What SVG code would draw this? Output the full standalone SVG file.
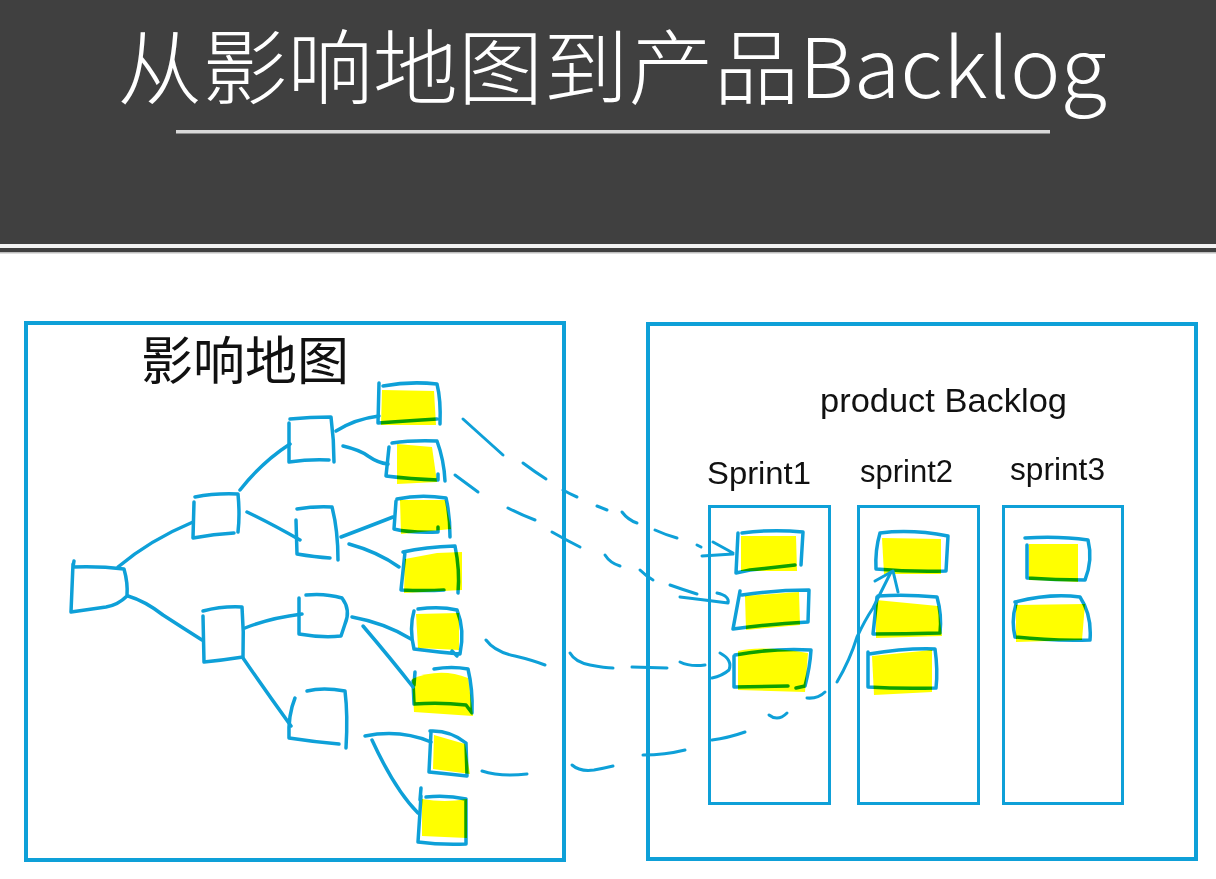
<svg xmlns="http://www.w3.org/2000/svg" width="1216" height="879" viewBox="0 0 1216 879">
<style>
.frame{fill:none;stroke:#0ea0d8;stroke-width:4}
.col{fill:none;stroke:#0ea0d8;stroke-width:3}
.b{fill:none;stroke:#0ea0d8;stroke-width:3.5;stroke-linecap:round;stroke-linejoin:round}
.d{fill:none;stroke:#0ea0d8;stroke-width:3;stroke-linecap:round;stroke-linejoin:round}
.hl{fill:#ffff00;mix-blend-mode:multiply}
.hand{fill:#111;font-family:"Liberation Sans","DejaVu Sans",sans-serif}
.handcjk{fill:#111;font-family:"Noto Sans CJK SC","Noto Sans CJK JP",sans-serif}
</style>
<rect x="0" y="0" width="1216" height="879" fill="#ffffff"/>
<g id="banner">
<rect x="0" y="0" width="1216" height="252" fill="#404040"/>
<rect x="0" y="244" width="1216" height="4" fill="#f2f2f2"/>
<rect x="0" y="252" width="1216" height="1.5" fill="#bdbdbd"/>
<rect x="176" y="130" width="874" height="3.5" fill="#d9d9d9"/>
<text x="117" y="98" textLength="990" lengthAdjust="spacingAndGlyphs" font-family="'Noto Sans CJK SC','Noto Sans CJK JP',sans-serif" font-weight="200" font-size="82" fill="#ffffff">从影响地图到产品Backlog</text>
</g>
<g id="impact-map-panel">
<rect class="frame" x="26" y="323" width="538" height="537"/>
<text class="handcjk" x="141" y="380" font-size="52" textLength="208" lengthAdjust="spacingAndGlyphs">影响地图</text>
</g>
<g id="backlog-panel">
<rect class="frame" x="648" y="324" width="548" height="535"/>
<text class="hand" x="820" y="412" font-size="33" textLength="247" lengthAdjust="spacingAndGlyphs">product Backlog</text>
</g>
<g id="sprint1">
<rect class="col" x="709.5" y="506.5" width="120" height="297"/>
<text class="hand" x="707" y="484" font-size="31" textLength="104" lengthAdjust="spacingAndGlyphs">Sprint1</text>
</g>
<g id="sprint2">
<rect class="col" x="858.5" y="506.5" width="120" height="297"/>
<text class="hand" x="860" y="482" font-size="31" textLength="93" lengthAdjust="spacingAndGlyphs">sprint2</text>
</g>
<g id="sprint3">
<rect class="col" x="1003.5" y="506.5" width="119" height="297"/>
<text class="hand" x="1010" y="480" font-size="31" textLength="95" lengthAdjust="spacingAndGlyphs">sprint3</text>
</g>
<g id="root">
<path class="b" d="M74,561 L73,567 Q100,566 124,569 Q128,583 127,596 Q118,605 106,607 L71,612 L73,564"/>
</g>
<g id="node-a">
<path class="b" d="M195,497 Q215,493 238,494 Q240,515 238,532 M234,533 Q214,534 193,538 L194,502"/>
</g>
<g id="node-b">
<path class="b" d="M203,611 Q222,606 242,607 Q244,632 243,657 Q224,660 204,662 L203,616"/>
</g>
<g id="node-c">
<path class="b" d="M290,419 Q310,417 331,417 Q334,440 334,462 M329,460 Q310,459 289,462 L289,423"/>
</g>
<g id="node-d">
<path class="b" d="M297,509 Q315,506 332,507 Q338,530 338,560 M330,558 Q315,557 297,554 L296,520"/>
</g>
<g id="node-e">
<path class="b" d="M306,595 Q325,593 342,598 Q351,610 345,624 L341,636 Q322,638 299,634 L299,598"/>
</g>
<g id="node-f">
<path class="b" d="M307,691 Q323,687 345,691 Q348,715 346,748 M339,744 Q315,742 289,738 Q288,715 295,698"/>
</g>
<g id="leaf1">
<path class="b" d="M379,383 L378,423 Q405,421 437,419 M383,386 Q410,381 437,384 Q441,400 440,424"/>
<path class="hl" d="M382,390 L434,391 L436,425 L381,425 Z"/>
</g>
<g id="leaf2">
<path class="b" d="M392,443 Q412,440 437,441 Q444,460 445,481 M389,447 L386,476 Q410,479 438,480 L438,474"/>
<path class="hl" d="M397,444 L432,447 L437,482 L397,484 Z"/>
</g>
<g id="leaf3">
<path class="b" d="M397,499 Q420,494 446,498 Q450,515 450,537 M396,501 L394,529 Q410,533 438,532 L438,527"/>
<path class="hl" d="M400,500 L445,500 L451,529 L401,534 Z"/>
</g>
<g id="leaf4">
<path class="b" d="M403,552 Q425,547 455,546 Q460,570 458,593 M405,552 L401,590 Q425,591 444,590"/>
<path class="hl" d="M405,559 L437,553 L462,552 L462,590 L404,593 Z"/>
</g>
<g id="leaf5">
<path class="b" d="M418,609 Q440,606 457,610 Q465,630 460,654 Q437,652 414,649 Q409,628 414,611 M452,651 L457,656"/>
<path class="hl" d="M416,614 L459,613 L459,650 L418,648 Z"/>
</g>
<g id="leaf6">
<path class="b" d="M434,669 Q452,666 468,669 Q473,690 472,713 L466,705 Q440,702 414,704 L413,681 M415,672 L414,685"/>
<path class="hl" d="M412,679 Q440,667 468,678 L473,716 L414,712 Z"/>
</g>
<g id="leaf7">
<path class="b" d="M430,731 Q450,730 466,743 L467,776 Q449,774 429,772 L431,732"/>
<path class="hl" d="M434,735 L465,744 L470,774 L433,769 Z"/>
</g>
<g id="leaf8">
<path class="b" d="M421,796 L418,842 Q440,845 466,844 L466,799 Q447,795 426,797 M421,788 L420,800"/>
<path class="hl" d="M422,799 Q445,803 467,799 L467,838 L422,836 Z"/>
</g>
<g id="s1-item1">
<path class="b" d="M738,533 L736,573 L750,570 L795,565 M742,533 Q772,529 803,532 L801,565"/>
<path class="hl" d="M741,536 L796,536 L797,571 L741,571 Z"/>
</g>
<g id="s1-item2">
<path class="b" d="M740,591 L733,629 Q770,624 808,622 L809,590 Q775,590 742,595"/>
<path class="hl" d="M745,596 L799,592 L800,625 L746,630 Z"/>
</g>
<g id="s1-item3">
<path class="b" d="M734,656 L734,687 L788,686 M796,688 L805,686 Q810,667 811,650 Q772,648 735,655"/>
<path class="hl" d="M738,651 Q760,645 808,653 L805,692 L738,690 Z"/>
</g>
<g id="s2-item1">
<path class="b" d="M880,533 Q875,550 876,569 Q910,572 946,571 L948,536 Q912,529 880,533"/>
<path class="hl" d="M882,538 L941,539 L941,574 L884,574 Z"/>
</g>
<g id="s2-item2">
<path class="b" d="M877,597 L873,634 Q905,634 940,633 Q942,615 937,597 Q905,594 878,596"/>
<path class="hl" d="M876,600 L938,606 L942,636 L876,638 Z"/>
</g>
<g id="s2-item3">
<path class="b" d="M868,652 L868,687 Q900,689 936,688 Q938,670 935,649 Q905,648 869,654"/>
<path class="hl" d="M872,656 L932,650 L932,692 L874,695 Z"/>
</g>
<g id="s3-item1">
<path class="b" d="M1025,538 Q1060,536 1088,540 Q1093,560 1085,580 Q1055,580 1027,578 L1027,545"/>
<path class="hl" d="M1029,544 L1078,544 L1078,582 L1029,580 Z"/>
</g>
<g id="s3-item2">
<path class="b" d="M1015,602 Q1050,593 1080,597 Q1092,615 1090,640 Q1050,641 1015,637 Q1011,620 1016,604"/>
<path class="hl" d="M1016,605 L1085,604 L1082,640 L1016,642 Z"/>
</g>
<g id="connectors">
<path class="b" d="M118,567 Q150,540 193,522"/>
<path class="b" d="M128,596 Q145,601 163,615 Q183,628 202,640"/>
<path class="b" d="M240,490 Q262,462 290,444"/>
<path class="b" d="M247,512 Q272,524 300,540"/>
<path class="b" d="M245,628 Q270,618 302,614"/>
<path class="b" d="M243,658 Q265,690 291,726"/>
<path class="b" d="M336,431 Q355,419 379,416"/>
<path class="b" d="M343,446 Q360,450 368,456 Q378,463 388,464"/>
<path class="b" d="M341,537 Q370,526 393,517"/>
<path class="b" d="M349,544 Q378,552 399,567"/>
<path class="b" d="M352,617 Q385,623 411,639"/>
<path class="b" d="M363,626 Q392,660 413,687"/>
<path class="b" d="M365,736 Q400,729 431,742"/>
<path class="b" d="M372,740 Q395,790 418,813"/>
<path class="d" d="M463,419 Q483,437 503,455"/>
<path class="d" d="M523,463 Q535,472 546,479"/>
<path class="d" d="M563,490 Q570,494 577,497"/>
<path class="d" d="M597,506 L607,510"/>
<path class="d" d="M622,512 Q628,520 637,523"/>
<path class="d" d="M655,530 Q666,535 677,538"/>
<path class="d" d="M697,545 L701,547"/>
<path class="d" d="M702,556 L733,554 M713,542 L733,553"/>
<path class="d" d="M455,475 L478,492"/>
<path class="d" d="M508,508 Q522,515 535,520"/>
<path class="d" d="M552,532 Q566,540 580,547"/>
<path class="d" d="M605,555 Q610,563 620,566"/>
<path class="d" d="M640,570 Q646,576 653,580"/>
<path class="d" d="M670,585 Q684,590 697,594"/>
<path class="d" d="M680,597 Q705,600 728,603 Q730,596 717,593"/>
<path class="d" d="M486,640 Q495,652 515,656 Q532,660 545,665"/>
<path class="d" d="M570,653 Q575,662 590,665 Q605,668 613,668"/>
<path class="d" d="M632,667 L667,668"/>
<path class="d" d="M680,662 Q690,667 705,665"/>
<path class="d" d="M720,653 Q733,660 729,670 Q722,676 712,678"/>
<path class="d" d="M482,771 Q500,777 527,774"/>
<path class="d" d="M572,765 Q580,772 594,770 Q605,768 613,766"/>
<path class="d" d="M643,755 Q665,755 685,750"/>
<path class="d" d="M712,740 Q728,738 745,732"/>
<path class="d" d="M769,715 Q778,722 787,713"/>
<path class="d" d="M807,698 Q818,699 825,692"/>
<path class="d" d="M837,682 Q850,660 857,637 Q865,620 873,608 Q882,590 891,572"/>
<path class="d" d="M875,581 L893,571 L898,592"/>
</g>
</svg>
